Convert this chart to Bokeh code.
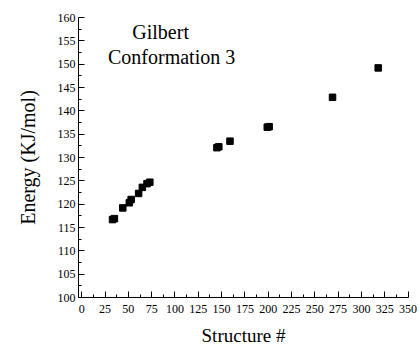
from bokeh.plotting import figure
from bokeh.models import Label, FixedTicker, Range1d
from bokeh.embed import file_html
from bokeh.resources import INLINE

structure = [33, 35, 44, 51, 53, 61, 65, 70, 73, 145, 147, 159, 199, 201, 269, 318]
energy = [116.7, 116.9, 119.2, 120.3, 121.0, 122.3, 123.6, 124.4, 124.7,
          132.1, 132.3, 133.5, 136.5, 136.6, 142.9, 149.2]
x_ticks = list(range(0, 351, 25))
y_ticks = list(range(100, 161, 5))

FONT = "Liberation Serif"

p = figure(width=418, height=348, output_backend="svg", toolbar_location=None,
           x_range=Range1d(-3.5, 350.5), y_range=Range1d(100, 160))
p.min_border_left = 78
p.min_border_right = 10
p.min_border_top = 17
p.min_border_bottom = 47
p.outline_line_color = None
p.grid.visible = False
p.background_fill_color = "white"

p.scatter(structure, energy, marker="square", size=6.5, color="black")

for ax in (p.xaxis[0], p.yaxis[0]):
    ax.major_tick_in = 6
    ax.major_tick_out = 0
    ax.minor_tick_in = 3
    ax.minor_tick_out = 0
    ax.axis_line_color = "black"
    ax.major_tick_line_color = "black"
    ax.minor_tick_line_color = "black"
    ax.major_label_text_font = FONT
    ax.major_label_text_font_size = "12px"
    ax.major_label_text_color = "black"
    ax.axis_label_text_font = FONT
    ax.axis_label_text_font_style = "normal"
    ax.axis_label_text_color = "black"

p.xaxis.axis_label_text_font_size = "19px"
p.yaxis.axis_label_text_font_size = "20px"
p.xaxis.ticker = FixedTicker(ticks=x_ticks, minor_ticks=[t + 12.5 for t in x_ticks[:-1]])
p.yaxis.ticker = FixedTicker(ticks=y_ticks, minor_ticks=[t + 2.5 for t in y_ticks[:-1]])
p.xaxis.axis_label = "Structure #"
p.yaxis.axis_label = "Energy (KJ/mol)"
p.xaxis.major_label_standoff = 7
p.yaxis.major_label_standoff = 3
p.xaxis.axis_label_standoff = 9
p.yaxis.axis_label_standoff = 16

p.add_layout(Label(x=84.6, y=157.0, text="Gilbert", text_align="center",
                   text_baseline="middle", text_font=FONT, text_font_size="20px",
                   text_color="black"))
p.add_layout(Label(x=96.4, y=151.5, text="Conformation 3", text_align="center",
                   text_baseline="middle", text_font=FONT, text_font_size="20px",
                   text_color="black"))

open("out.html", "w").write(file_html(p, INLINE))
